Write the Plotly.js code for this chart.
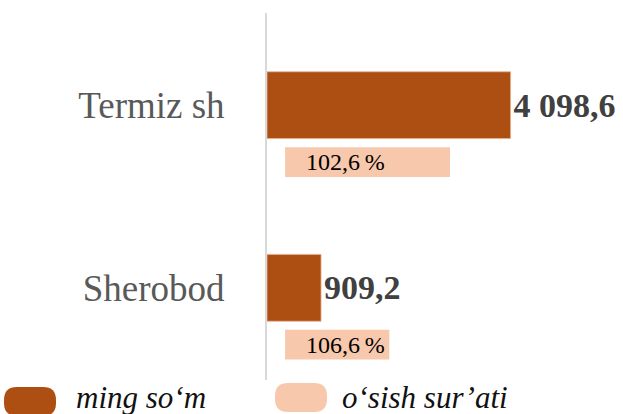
<!DOCTYPE html>
<html>
<head>
<meta charset="utf-8">
<script src="https://cdn.plot.ly/plotly-3.0.1.min.js"></script>
<style>html,body{margin:0;padding:0;background:#fff;}#chart{width:623px;height:414px;}</style>
</head>
<body>
<div id="chart"></div>
<script>
// Data
const categories = ["Termiz sh", "Sherobod"];
const valuesThousandSom = [4098.6, 909.2];
const growthRatePct = [102.6, 106.6];
const seriesNames = ["ming so‘m", "o‘sish sur’ati"];

const darkColor = "#AD4E12";
const lightColor = "#F7C8AC";
const serif = "Liberation Serif, Times New Roman, serif";

// the growth-rate bars in the source are drawn on an inverted secondary axis
// whose origin sits at growthOrigin
const growthOrigin = 113.47;

function pill(x0, x1, y0, y1, r) {
  return `M${x0 + r},${y0} L${x1 - r},${y0} Q${x1},${y0} ${x1},${y0 + r} L${x1},${y1 - r} Q${x1},${y1} ${x1 - r},${y1} L${x0 + r},${y1} Q${x0},${y1} ${x0},${y1 - r} L${x0},${y0 + r} Q${x0},${y0} ${x0 + r},${y0} Z`;
}

const traces = [
  {
    type: "bar", orientation: "h", name: seriesNames[0],
    y: categories, x: valuesThousandSom,
    xaxis: "x", yaxis: "y",
    offset: -0.183, width: 0.366,
    marker: {color: darkColor, line: {color: "#E9B390", width: 0.8}},
    texttemplate: "%{x:,.1f}", textposition: "outside", cliponaxis: false,
    constraintext: "none",
    outsidetextfont: {family: serif, size: 34, color: "#404040", weight: "bold"},
    hoverinfo: "skip", showlegend: false
  },
  {
    type: "bar", orientation: "h", name: seriesNames[1],
    y: categories,
    base: growthOrigin,
    x: growthRatePct.map(v => v - growthOrigin),
    customdata: growthRatePct,
    xaxis: "x2", yaxis: "y",
    offset: 0.23, width: 0.163,
    marker: {color: lightColor},
    texttemplate: "\u00a0\u00a0\u00a0%{customdata:.1f}\u2009%", textposition: "inside", insidetextanchor: "start",
    constraintext: "none", cliponaxis: false,
    insidetextfont: {family: serif, size: 24, color: "#000000"},
    hoverinfo: "skip", showlegend: false
  }
];

const layout = {
  width: 623, height: 414,
  margin: {l: 267, r: 0, t: 13, b: 34},
  paper_bgcolor: "#ffffff", plot_bgcolor: "#ffffff",
  separators: ", ",
  barmode: "overlay",
  showlegend: false,
  xaxis: {range: [0, 5990], visible: false, showgrid: false, zeroline: false, fixedrange: true},
  xaxis2: {range: [114.66, 91.2], overlaying: "x", visible: false, showgrid: false, zeroline: false},
  yaxis: {
    type: "category", range: [1.505, -0.505],
    showline: true, linecolor: "#D9D9D9", linewidth: 2,
    showgrid: false, zeroline: false,
    ticks: "outside", ticklen: 33, tickcolor: "rgba(0,0,0,0)",
    tickfont: {family: serif, size: 37, color: "#595959"}
  },
  shapes: [
    {type: "path", xref: "paper", yref: "paper", xsizemode: "pixel", ysizemode: "pixel",
     xanchor: 0, yanchor: 0, path: pill(-263, -211, -36, -7, 13),
     fillcolor: darkColor, line: {width: 0}},
    {type: "path", xref: "paper", yref: "paper", xsizemode: "pixel", ysizemode: "pixel",
     xanchor: 0, yanchor: 0, path: pill(8, 60, -32, -3, 13),
     fillcolor: lightColor, line: {width: 0}}
  ],
  annotations: [
    {xref: "paper", yref: "paper", x: -0.5421, y: -0.049, xanchor: "left", yanchor: "middle",
     text: seriesNames[0], showarrow: false,
     font: {family: serif, size: 31, color: "#111111", style: "italic"}},
    {xref: "paper", yref: "paper", x: 0.2051, y: -0.049, xanchor: "left", yanchor: "middle",
     text: seriesNames[1], showarrow: false,
     font: {family: serif, size: 31, color: "#111111", style: "italic"}}
  ]
};

Plotly.newPlot("chart", traces, layout, {staticPlot: true, displayModeBar: false});
</script>
</body>
</html>
